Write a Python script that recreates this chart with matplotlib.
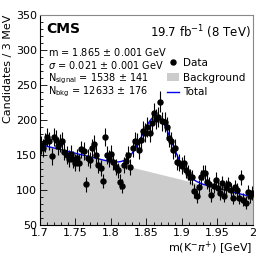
import numpy as np
import matplotlib
matplotlib.use('Agg')
import matplotlib.pyplot as plt
from matplotlib.ticker import MultipleLocator
from matplotlib.lines import Line2D
from matplotlib.patches import Patch

# data: 3 MeV bins from 1.7 to 2.0 GeV
bin_lo = 1.7
bin_w = 0.003
counts = [165, 160, 168, 176, 170, 148, 176, 172, 163, 167,
          170, 155, 150, 145, 152, 144, 139, 146, 139, 158,
          156, 108, 146, 143, 160, 166, 150, 136, 131, 113,
          176, 150, 145, 152, 140, 133, 128, 112, 106, 136,
          142, 150, 133, 160, 170, 168, 157, 172, 185, 182,
          190, 182, 196, 210, 202, 205, 226, 198, 197, 190,
          175, 170, 157, 160, 140, 139, 135, 138, 128, 125,
          119, 118, 99, 91, 104, 118, 125, 124, 112, 108,
          93, 106, 115, 103, 96, 110, 92, 104, 108, 100,
          89, 104, 100, 89, 118, 86, 82, 97, 91, 96]

# fit result
mass = 1.865
sigma = 0.021
n_sig = 1538
bkg_lo, bkg_hi = 165.0, 90.0   # background at 1.7 and 2.0 GeV

centers = bin_lo + bin_w * (np.arange(len(counts)) + 0.5)
counts = np.array(counts, dtype=float)
errs = np.sqrt(counts)

m = np.linspace(1.7, 2.0, 400)
bkg = bkg_lo + (bkg_hi - bkg_lo) * (m - 1.7) / 0.3
sig = n_sig * bin_w / (np.sqrt(2 * np.pi) * sigma) * np.exp(-0.5 * ((m - mass) / sigma) ** 2)
total = bkg + sig * 0.93

fig = plt.figure(figsize=(2.66, 2.56), dpi=100)
ax = fig.add_axes([0.150, 0.121, 0.801, 0.820])

ax.fill_between(m, 50, bkg, color='#cccccc', lw=0, zorder=1)
ax.plot(m, total, color='#0000ee', lw=1.0, zorder=2)
ax.errorbar(centers, counts, yerr=errs, fmt='o', color='black', ms=3.6,
            elinewidth=0.8, capsize=0, zorder=3)

ax.set_xlim(1.7, 2.0)
ax.set_ylim(50, 350)
ax.xaxis.set_major_locator(MultipleLocator(0.05))
ax.xaxis.set_minor_locator(MultipleLocator(0.01))
ax.yaxis.set_major_locator(MultipleLocator(50))
ax.yaxis.set_minor_locator(MultipleLocator(10))
ax.set_xticks([1.7, 1.75, 1.8, 1.85, 1.9, 1.95, 2.0])
ax.set_xticklabels(['1.7', '1.75', '1.8', '1.85', '1.9', '1.95', '2'])
ax.tick_params(which='both', direction='in', labelsize=8, pad=2)
ax.tick_params(axis='x', pad=2.5)
ax.tick_params(which='major', length=5, width=0.6)
ax.tick_params(which='minor', length=2.5, width=0.6)
for s in ax.spines.values():
    s.set_linewidth(0.8)
ax.spines['top'].set_color('#888888')
ax.spines['right'].set_color('#888888')

ax.set_ylabel('Candidates / 3 MeV', fontsize=8, labelpad=2)
ax.yaxis.set_label_coords(-0.125, 1.0, transform=ax.transAxes)
ax.yaxis.label.set_ha('right')
ax.text(0.995, -0.113, r'm(K$^{-}\pi^{+}$) [GeV]', transform=ax.transAxes,
        fontsize=8, ha='right', va='center')

ax.text(0.03, 0.933, 'CMS', transform=ax.transAxes, fontsize=10, fontweight='bold',
        ha='left', va='center')
ax.text(0.99, 0.92, r'19.7 fb$^{-1}$ (8 TeV)', transform=ax.transAxes, fontsize=8.5,
        ha='right', va='center')
pars = [r'm = 1.865 $\pm$ 0.001 GeV',
        r'$\sigma$ = 0.021 $\pm$ 0.001 GeV',
        r'N$_{\mathrm{signal}}$ = 1538 $\pm$ 141',
        r'N$_{\mathrm{bkg}}$ = 12633 $\pm$ 176']
for k, t in enumerate(pars):
    ax.text(0.04, 0.824 - 0.0635 * k, t, transform=ax.transAxes, fontsize=7,
            ha='left', va='center')

handles = [Line2D([], [], marker='o', color='black', ls='none', ms=3.6),
           Patch(facecolor='#cccccc', edgecolor='none'),
           Line2D([], [], color='#0000ee', lw=1.0)]
ax.legend(handles, ['Data', 'Background', 'Total'], loc='upper right',
          bbox_to_anchor=(1.0, 0.83), frameon=False, fontsize=7.5,
          handlelength=1.2, handletextpad=0.4, labelspacing=0.45, borderpad=0.2)

fig.savefig('out.png', dpi=100)
